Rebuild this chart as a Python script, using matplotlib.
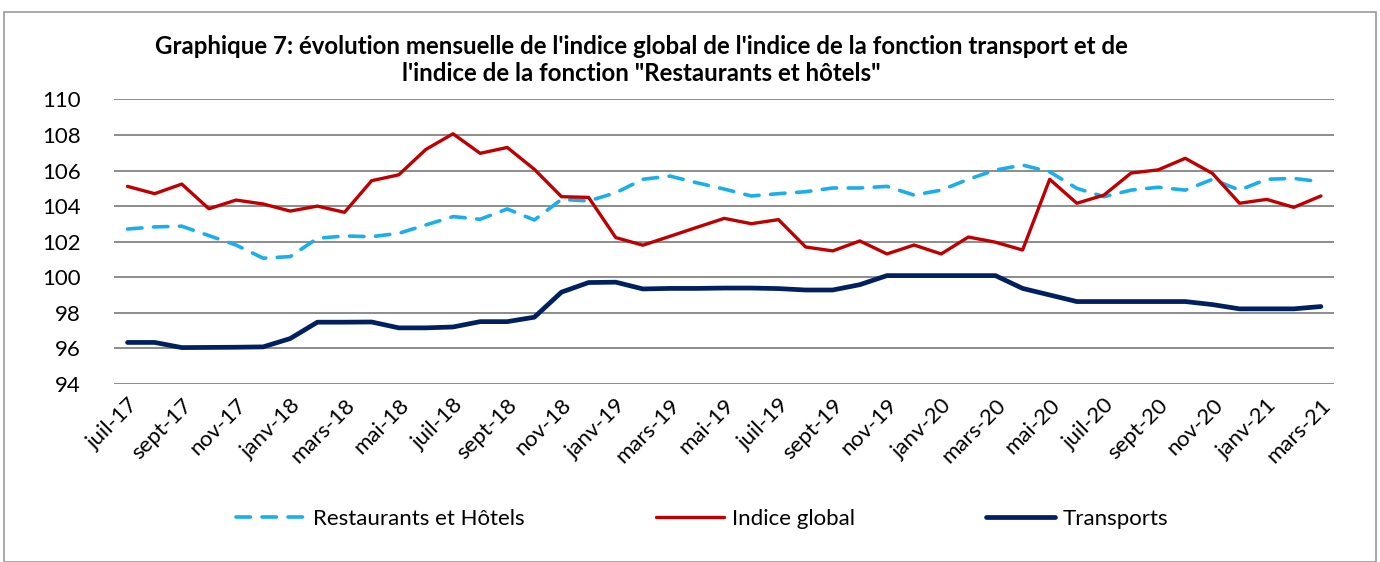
import numpy as np
import matplotlib
matplotlib.use("Agg")
import matplotlib.pyplot as plt
from matplotlib.patches import Rectangle

plt.rcParams['font.family'] = ['Lato', 'DejaVu Sans']

mois = ["janv", "févr", "mars", "avr", "mai", "juin",
        "juil", "août", "sept", "oct", "nov", "déc"]
# juil-17 .. mars-21
labels = []
for k in range(45):
    m = (6 + k) % 12
    a = 17 + (6 + k) // 12
    labels.append("%s-%d" % (mois[m], a))

restaurants = [102.71, 102.83, 102.87, 102.34, 101.81, 101.07, 101.16, 102.19, 102.32,
               102.28, 102.47, 102.94, 103.41, 103.26, 103.84, 103.22, 104.38, 104.29,
               104.75, 105.51, 105.69, 105.31, 104.96, 104.57, 104.70, 104.81, 105.02,
               105.02, 105.11, 104.62, 104.90, 105.51, 106.03, 106.31, 105.93, 105.00,
               104.53, 104.90, 105.06, 104.90, 105.51, 104.90, 105.51, 105.56, 105.37]

indice_global = [105.11, 104.70, 105.24, 103.85, 104.34, 104.12, 103.72, 104.00, 103.65,
                 105.43, 105.76, 107.19, 108.07, 106.97, 107.30, 106.07, 104.53, 104.49,
                 102.23, 101.80, 102.30, 102.81, 103.31, 103.01, 103.24, 101.70, 101.48,
                 102.04, 101.31, 101.81, 101.31, 102.26, 101.97, 101.53, 105.51, 104.16,
                 104.62, 105.86, 106.04, 106.69, 105.84, 104.16, 104.38, 103.93, 104.57]

transports = [96.33, 96.33, 96.04, 96.05, 96.06, 96.08, 96.55, 97.47, 97.47,
              97.48, 97.15, 97.15, 97.20, 97.50, 97.50, 97.75, 99.16, 99.70,
              99.72, 99.34, 99.37, 99.37, 99.39, 99.39, 99.36, 99.28, 99.28,
              99.58, 100.09, 100.09, 100.09, 100.09, 100.09, 99.37, 99.00, 98.63,
              98.63, 98.63, 98.63, 98.63, 98.46, 98.22, 98.22, 98.22, 98.35]

x = np.arange(len(labels))

fig = plt.figure(figsize=(13.8, 5.62), dpi=100)
fig.patches.append(Rectangle((0.003, 0.0), 0.994, 0.978, transform=fig.transFigure,
                             fill=False, edgecolor='#9a9a9a', linewidth=1.2))
ax = fig.add_axes([0.0826, 0.317, 0.967 - 0.0826, 0.823 - 0.317])

ax.plot(x, restaurants, color='#1aaeeb', linewidth=2.6, dashes=(4, 3.2),
        dash_capstyle='round', label='Restaurants et Hôtels')
ax.plot(x, indice_global, color='#c00000', linewidth=2.4,
        solid_capstyle='round', label='Indice global')
ax.plot(x, transports, color='#002060', linewidth=3.4,
        solid_capstyle='round', label='Transports')

ax.set_xlim(-0.5, len(labels) - 0.5)
ax.set_ylim(94, 110)
ax.set_yticks(np.arange(94, 111, 2))
ax.set_xticks(x[::2])
ax.set_xticklabels(labels[::2], rotation=45, ha='right', rotation_mode='anchor')
ax.tick_params(axis='both', length=0, labelsize=16)
ax.tick_params(axis='x', pad=8)
ax.tick_params(axis='y', pad=24)
ax.grid(axis='y', color='#8c8c8c', linewidth=1.4)
ax.set_axisbelow(True)
for s in ax.spines.values():
    s.set_visible(False)

fig.text(0.465, 0.893, "Graphique 7: évolution mensuelle de l'indice global de l'indice de la fonction transport et de\n"
         "l'indice de la fonction \"Restaurants et hôtels\"",
         ha='center', va='center', fontsize=17.3, fontweight='bold', linespacing=1.2)

fig.legend(loc='center', bbox_to_anchor=(0.509, 0.077), ncol=3, frameon=False,
           fontsize=16, handlelength=3.1, columnspacing=5.9, handletextpad=0.35)

fig.savefig("out.png", dpi=100)
